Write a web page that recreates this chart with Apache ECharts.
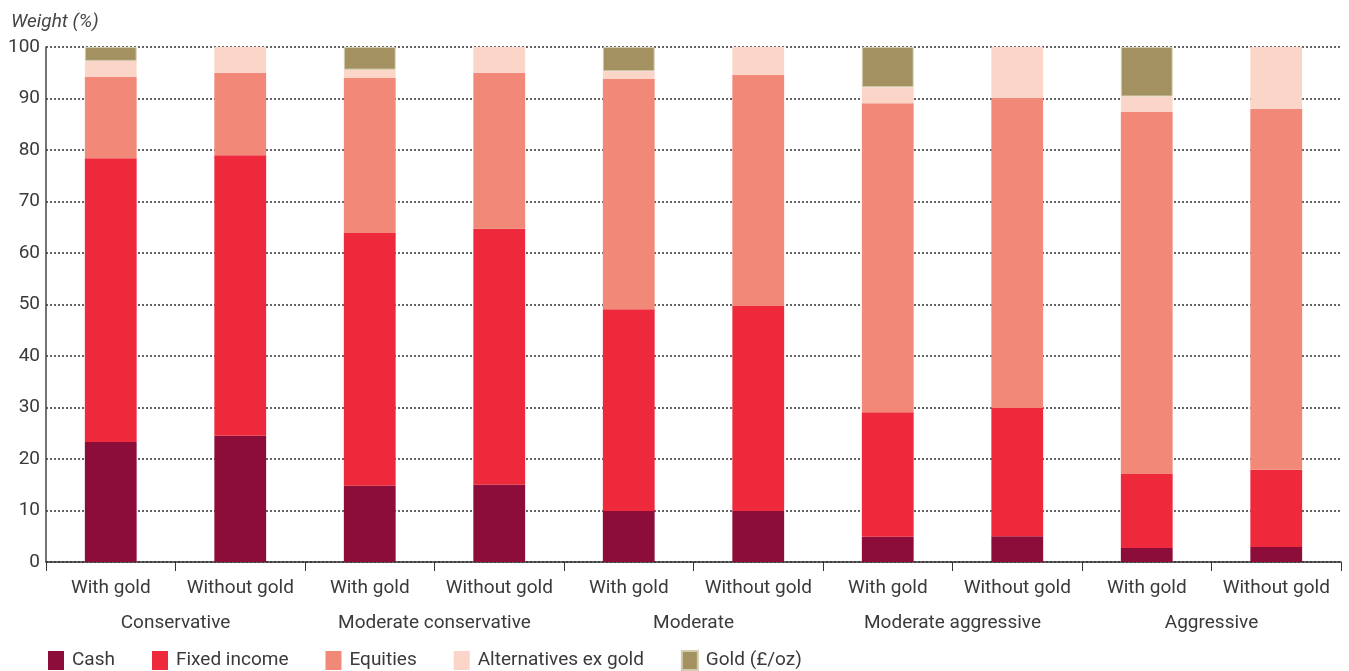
<!DOCTYPE html>
<html><head><meta charset="utf-8">
<script src="https://cdn.jsdelivr.net/npm/echarts@6/dist/echarts.min.js"></script>
<style>html,body{margin:0;padding:0;background:#fff}#c{width:1349px;height:671px}</style>
</head><body><div id="c"></div>
<script>
const variants = ["With gold","Without gold","With gold","Without gold","With gold","Without gold","With gold","Without gold","With gold","Without gold"];
const profiles = ["Conservative","Moderate conservative","Moderate","Moderate aggressive","Aggressive"];
const yTicks = [0,10,20,30,40,50,60,70,80,90,100];
const cash        = [23.3, 24.5, 14.8, 15.0, 9.9, 9.9, 4.9, 5.0, 2.7, 2.9];
const fixedIncome = [55.1, 54.5, 49.1, 49.7, 39.2, 39.8, 24.2, 24.9, 14.4, 15.0];
const equities    = [15.8, 16.0, 30.1, 30.3, 44.7, 44.9, 60.0, 60.2, 70.3, 70.1];
const altExGold   = [3.1, 5.0, 1.6, 5.0, 1.5, 5.4, 3.1, 9.9, 3.0, 12.0];
const gold        = [2.7, null, 4.4, null, 4.7, null, 7.8, null, 9.6, null];

const font = 'Roboto, "Liberation Sans", sans-serif';
const txt = '#3a3a3a';
const chart = echarts.init(document.getElementById('c'));
const mk = (name, data, color, extra) => Object.assign({
  name, type:'bar', stack:'s', data, barWidth:'40%', xAxisIndex:0,
  itemStyle:{color}, emphasis:{disabled:true}
}, extra||{});
chart.setOption({
  animation:false,
  textStyle:{fontFamily:font},
  title:{text:'Weight (%)', left:6, top:8, textStyle:{fontSize:19, fontStyle:'italic', fontWeight:'normal', color:'#444', fontFamily:font}},
  grid:{left:46, right:8, top:47, bottom:109},
  legend:{left:43, top:645, itemWidth:16, itemHeight:19, itemGap:37, icon:'rect',
    textStyle:{fontSize:19, color:txt, padding:[0,0,0,3]},
    data:['Cash','Fixed income','Equities','Alternatives ex gold','Gold (£/oz)']},
  xAxis:[
    {type:'category', data:variants, position:'bottom',
     axisLine:{lineStyle:{color:'#333', width:1.5}},
     axisTick:{show:true, length:9, interval:0, lineStyle:{color:'#333'}},
     axisLabel:{interval:0, fontSize:19, color:txt, margin:17}},
    {type:'category', data:profiles, position:'bottom', offset:35,
     axisLine:{show:false}, axisTick:{show:false},
     axisLabel:{interval:0, fontSize:19, color:txt, margin:17}}
  ],
  yAxis:{type:'value', min:0, max:100, interval:10,
    axisLine:{show:true, lineStyle:{color:'#444', width:1.5}},
    axisTick:{show:false},
    axisLabel:{fontSize:19, color:txt, margin:6, customValues: yTicks},
    splitLine:{lineStyle:{type:[2,2], color:'#333', width:1.5}}},
  series:[
    mk('Cash', cash, '#8c0d3a'),
    mk('Fixed income', fixedIncome, '#ed293b'),
    mk('Equities', equities, '#f28877'),
    mk('Alternatives ex gold', altExGold, '#fcd5c9'),
    mk('Gold (£/oz)', gold, '#a39161', {itemStyle:{color:'#a39161', borderColor:'#d4ccb0', borderWidth:1}})
  ]
});
</script></body></html>
